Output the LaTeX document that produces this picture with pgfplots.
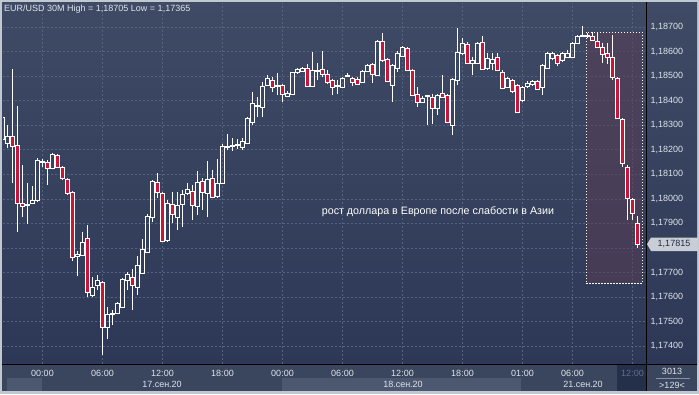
\documentclass[border=0pt]{standalone}
\usepackage{pgfplots}
\pgfplotsset{compat=1.18}
\usepackage{fontspec}
\setmainfont{Liberation Sans}
\definecolor{bgtop}{RGB}{63,75,101}
\definecolor{bgbot}{RGB}{44,56,86}
\definecolor{gridc}{RGB}{86,98,126}
\definecolor{band}{RGB}{58,70,94}
\definecolor{bandl}{RGB}{76,88,112}
\definecolor{bandd}{RGB}{36,48,74}
\definecolor{framec}{RGB}{192,200,210}
\definecolor{txt}{RGB}{222,228,236}
\definecolor{dimtxt}{RGB}{96,110,138}
\definecolor{candred}{RGB}{200,22,58}
\definecolor{hl}{RGB}{93,60,84}
\definecolor{tagc}{RGB}{200,205,214}

\newcommand\candleU[5]{% i open high low close (rising)
  \pgfmathsetmacro\xa{#1-0.37}\pgfmathsetmacro\xb{#1+0.37}%
  \addplot[wk] coordinates {(#1,#4) (#1,#2)};
  \addplot[wk] coordinates {(#1,#5) (#1,#3)};
  \addplot[ub] coordinates {(\xa,#2) (\xb,#2) (\xb,#5) (\xa,#5) (\xa,#2)};
}
\newcommand\candleD[5]{% i open high low close (falling)
  \pgfmathsetmacro\xa{#1-0.37}\pgfmathsetmacro\xb{#1+0.37}%
  \addplot[wk] coordinates {(#1,#4) (#1,#5)};
  \addplot[wk] coordinates {(#1,#2) (#1,#3)};
  \addplot[db] coordinates {(\xa,#2) (\xb,#2) (\xb,#5) (\xa,#5) (\xa,#2)};
}

\begin{document}
\begin{tikzpicture}
\begin{scope}[x=1pt,y=1pt]
\fill[framec] (0,0) rectangle (699,-394);
\shade[top color=bgtop,bottom color=bgbot] (2,-2) rectangle (697,-364);
\fill[band] (2,-364) rectangle (697,-391);
\fill[bandl] (7,-378) rectangle (42,-391);
\fill[bandl] (282,-378) rectangle (521,-391);
\fill[bandd] (617,-365) rectangle (645.5,-391);
\end{scope}

\begin{axis}[at={(3pt,-364pt)}, anchor=south west, scale only axis,
  width=643pt, height=361pt,
  xmin=-7.9, xmax=120.7, ymin=1.17327, ymax=1.18798,
  axis line style={draw=none},
  major tick length=0pt,
  grid=major,
  major grid style={gridc, dash pattern=on 2pt off 2pt, line width=0.6pt},
  xtick={0,12,24,36,48,60,72,84,96,106,118},
  xticklabels={00:00,06:00,12:00,18:00,00:00,06:00,12:00,18:00,01:00,06:00,{\textcolor{dimtxt}{12:00}}},
  ytick={1.174,1.175,1.176,1.177,1.178,1.179,1.180,1.181,1.182,1.183,1.184,1.185,1.186,1.187},
  yticklabels={{1,17400},{1,17500},{1,17600},{1,17700},{},{1,17900},{1,18000},{1,18100},{1,18200},{1,18300},{1,18400},{1,18500},{1,18600},{1,18700}},
  yticklabel pos=right,
  tick label style={font=\fontsize{9}{10}\selectfont, text=txt},
  yticklabel style={anchor=west, xshift=1pt},
  xticklabel style={yshift=-2.5pt},
  wk/.style={white, line width=0.9pt},
  ub/.style={white, line width=0.9pt, line cap=rect},
  db/.style={white, line width=0.9pt, line cap=rect, fill=candred},
]
\addplot[draw=white, dash pattern=on 1.5pt off 1.5pt, line width=0.8pt, fill=hl, fill opacity=0.5]
  coordinates {(108.7,1.17657) (119.9,1.17657) (119.9,1.18680) (108.7,1.18680) (108.7,1.17657)};
\candleD{-8}{1.18333}{1.18341}{1.18235}{1.18244}
\candleU{-7}{1.18227}{1.18301}{1.18207}{1.18256}
\candleD{-6}{1.18256}{1.18529}{1.18064}{1.18215}
\candleD{-5}{1.18219}{1.18378}{1.17865}{1.17983}
\candleD{-4}{1.17983}{1.18138}{1.17926}{1.17971}
\candleU{-3}{1.17974}{1.18064}{1.17897}{1.17976}
\candleU{-2}{1.17983}{1.18052}{1.17979}{1.17995}
\candleU{-1}{1.17995}{1.18166}{1.17987}{1.18158}
\candleU{0}{1.18150}{1.18162}{1.18129}{1.18154}
\candleD{1}{1.18150}{1.18158}{1.18056}{1.18125}
\candleU{2}{1.18125}{1.18187}{1.18121}{1.18182}
\candleD{3}{1.18178}{1.18182}{1.18125}{1.18129}
\candleD{4}{1.18129}{1.18134}{1.18076}{1.18085}
\candleD{5}{1.18081}{1.18085}{1.18015}{1.18024}
\candleD{6}{1.18028}{1.18032}{1.17746}{1.17763}
\candleU{7}{1.17767}{1.17787}{1.17685}{1.17775}
\candleU{8}{1.17771}{1.17865}{1.17767}{1.17824}
\candleD{9}{1.17840}{1.17893}{1.17600}{1.17620}
\candleU{10}{1.17608}{1.17681}{1.17600}{1.17640}
\candleU{11}{1.17649}{1.17689}{1.17628}{1.17669}
\candleD{12}{1.17661}{1.17665}{1.17365}{1.17477}
\candleU{13}{1.17477}{1.17559}{1.17429}{1.17530}
\candleU{14}{1.17530}{1.17547}{1.17486}{1.17535}
\candleU{15}{1.17535}{1.17579}{1.17530}{1.17575}
\candleU{16}{1.17559}{1.17677}{1.17559}{1.17673}
\candleU{17}{1.17669}{1.17702}{1.17628}{1.17693}
\candleD{18}{1.17681}{1.17714}{1.17547}{1.17649}
\candleU{19}{1.17640}{1.17767}{1.17608}{1.17730}
\candleU{20}{1.17698}{1.17836}{1.17698}{1.17795}
\candleU{21}{1.17783}{1.17938}{1.17779}{1.17930}
\candleU{22}{1.17926}{1.18076}{1.17905}{1.18072}
\candleD{23}{1.18068}{1.18105}{1.18003}{1.18028}
\candleD{24}{1.18024}{1.18028}{1.17824}{1.17828}
\candleU{25}{1.17832}{1.17995}{1.17824}{1.17983}
\candleD{26}{1.17979}{1.18028}{1.17901}{1.17938}
\candleU{27}{1.17926}{1.18028}{1.17873}{1.17975}
\candleU{28}{1.17979}{1.18036}{1.17885}{1.18019}
\candleU{29}{1.18024}{1.18064}{1.18015}{1.18040}
\candleD{30}{1.18032}{1.18056}{1.17913}{1.17975}
\candleU{31}{1.17971}{1.18113}{1.17934}{1.18068}
\candleD{32}{1.18072}{1.18085}{1.17954}{1.18028}
\candleU{33}{1.18024}{1.18154}{1.17926}{1.18081}
\candleD{34}{1.18085}{1.18117}{1.18003}{1.18007}
\candleU{35}{1.18011}{1.18162}{1.18003}{1.18064}
\candleU{36}{1.18064}{1.18223}{1.18060}{1.18215}
\candleU{37}{1.18211}{1.18264}{1.18199}{1.18215}
\candleU{38}{1.18215}{1.18248}{1.18195}{1.18219}
\candleU{39}{1.18219}{1.18244}{1.18203}{1.18223}
\candleU{40}{1.18211}{1.18248}{1.18199}{1.18235}
\candleU{41}{1.18227}{1.18333}{1.18223}{1.18329}
\candleU{42}{1.18313}{1.18435}{1.18301}{1.18390}
\candleU{43}{1.18377}{1.18415}{1.18333}{1.18379}
\candleU{44}{1.18374}{1.18476}{1.18333}{1.18460}
\candleU{45}{1.18464}{1.18504}{1.18460}{1.18492}
\candleD{46}{1.18484}{1.18496}{1.18435}{1.18455}
\candleU{47}{1.18460}{1.18513}{1.18423}{1.18461}
\candleD{48}{1.18464}{1.18468}{1.18394}{1.18427}
\candleU{49}{1.18419}{1.18439}{1.18415}{1.18431}
\candleU{50}{1.18427}{1.18517}{1.18423}{1.18513}
\candleU{51}{1.18513}{1.18533}{1.18508}{1.18529}
\candleU{52}{1.18521}{1.18537}{1.18517}{1.18533}
\candleD{53}{1.18533}{1.18549}{1.18455}{1.18460}
\candleU{54}{1.18460}{1.18598}{1.18455}{1.18525}
\candleU{55}{1.18521}{1.18553}{1.18484}{1.18525}
\candleD{56}{1.18529}{1.18602}{1.18496}{1.18508}
\candleD{57}{1.18508}{1.18525}{1.18468}{1.18476}
\candleD{58}{1.18484}{1.18488}{1.18423}{1.18455}
\candleU{59}{1.18460}{1.18484}{1.18427}{1.18461}
\candleU{60}{1.18455}{1.18496}{1.18451}{1.18492}
\candleU{61}{1.18500}{1.18513}{1.18496}{1.18501}
\candleD{62}{1.18492}{1.18496}{1.18460}{1.18476}
\candleD{63}{1.18488}{1.18496}{1.18464}{1.18468}
\candleU{64}{1.18476}{1.18525}{1.18472}{1.18521}
\candleU{65}{1.18521}{1.18549}{1.18517}{1.18545}
\candleD{66}{1.18549}{1.18553}{1.18472}{1.18508}
\candleU{67}{1.18504}{1.18647}{1.18500}{1.18643}
\candleD{68}{1.18643}{1.18675}{1.18557}{1.18565}
\candleD{69}{1.18570}{1.18574}{1.18476}{1.18480}
\candleU{70}{1.18464}{1.18549}{1.18394}{1.18545}
\candleU{71}{1.18533}{1.18602}{1.18517}{1.18594}
\candleU{72}{1.18582}{1.18623}{1.18578}{1.18618}
\candleD{73}{1.18614}{1.18618}{1.18521}{1.18525}
\candleD{74}{1.18525}{1.18529}{1.18419}{1.18423}
\candleD{75}{1.18427}{1.18455}{1.18374}{1.18394}
\candleU{76}{1.18394}{1.18419}{1.18390}{1.18411}
\candleU{77}{1.18419}{1.18423}{1.18301}{1.18420}
\candleD{78}{1.18415}{1.18427}{1.18305}{1.18370}
\candleU{79}{1.18370}{1.18427}{1.18341}{1.18423}
\candleD{80}{1.18431}{1.18504}{1.18411}{1.18415}
\candleD{81}{1.18423}{1.18427}{1.18309}{1.18313}
\candleU{82}{1.18301}{1.18492}{1.18260}{1.18488}
\candleU{83}{1.18484}{1.18696}{1.18464}{1.18598}
\candleU{84}{1.18594}{1.18655}{1.18586}{1.18635}
\candleD{85}{1.18631}{1.18639}{1.18549}{1.18553}
\candleU{86}{1.18553}{1.18578}{1.18504}{1.18565}
\candleU{87}{1.18553}{1.18639}{1.18549}{1.18635}
\candleD{88}{1.18639}{1.18663}{1.18525}{1.18529}
\candleU{89}{1.18533}{1.18594}{1.18525}{1.18574}
\candleU{90}{1.18553}{1.18594}{1.18525}{1.18570}
\candleD{91}{1.18578}{1.18594}{1.18521}{1.18525}
\candleD{92}{1.18513}{1.18525}{1.18447}{1.18451}
\candleU{93}{1.18455}{1.18496}{1.18451}{1.18492}
\candleD{94}{1.18484}{1.18488}{1.18431}{1.18439}
\candleD{95}{1.18464}{1.18468}{1.18350}{1.18354}
\candleU{96}{1.18402}{1.18460}{1.18394}{1.18455}
\candleU{97}{1.18460}{1.18480}{1.18451}{1.18472}
\candleU{98}{1.18468}{1.18484}{1.18460}{1.18480}
\candleD{99}{1.18480}{1.18484}{1.18443}{1.18447}
\candleU{100}{1.18455}{1.18549}{1.18423}{1.18545}
\candleU{101}{1.18533}{1.18598}{1.18529}{1.18594}
\candleU{102}{1.18574}{1.18598}{1.18565}{1.18594}
\candleD{103}{1.18586}{1.18590}{1.18541}{1.18553}
\candleU{104}{1.18565}{1.18598}{1.18557}{1.18594}
\candleU{105}{1.18578}{1.18606}{1.18574}{1.18594}
\candleU{106}{1.18578}{1.18639}{1.18574}{1.18635}
\candleU{107}{1.18635}{1.18667}{1.18631}{1.18663}
\candleU{108}{1.18663}{1.18705}{1.18659}{1.18667}
\candleU{109}{1.18663}{1.18675}{1.18655}{1.18664}
\candleD{110}{1.18663}{1.18680}{1.18643}{1.18647}
\candleD{111}{1.18643}{1.18675}{1.18614}{1.18618}
\candleD{112}{1.18618}{1.18635}{1.18553}{1.18590}
\candleD{113}{1.18594}{1.18635}{1.18549}{1.18578}
\candleD{114}{1.18578}{1.18667}{1.18484}{1.18496}
\candleD{115}{1.18492}{1.18496}{1.18325}{1.18329}
\candleD{116}{1.18325}{1.18329}{1.18129}{1.18146}
\candleD{117}{1.18129}{1.18138}{1.17913}{1.18003}
\candleD{118}{1.17999}{1.18003}{1.17913}{1.17942}
\candleD{119}{1.17901}{1.17930}{1.17799}{1.17815}
\end{axis}

\begin{scope}[x=1pt,y=1pt]
\draw[black, line width=1pt] (2,-364.5) -- (697,-364.5);
\draw[black, line width=1pt] (646.5,-2) -- (646.5,-391);
\node[anchor=west, inner sep=0pt, text=txt, font=\fontsize{9}{10}\selectfont] at (4,-9) {EUR/USD 30M High = 1,18705 Low = 1,17365};
\node[text=white, font=\fontsize{10.7}{12}\selectfont] at (438,-212) {рост доллара в Европе после слабости в Азии};
\foreach \x/\d in {162/17.сен.20, 403/18.сен.20, 583/21.сен.20}
  \node[text=txt, inner sep=0pt, font=\fontsize{9}{10}\selectfont] at (\x,-384.5) {\d};
\fill[tagc] (651,-237.5) -- (698,-237.5) -- (698,-251) -- (651,-251) -- (647,-244.2) -- cycle;
\node[text={rgb,255:red,34;green,42;blue,64}, inner sep=0pt, font=\fontsize{9}{10}\selectfont] at (674,-244.2) {1,17815};
\node[text=txt, inner sep=0pt, font=\fontsize{9}{10}\selectfont] at (672,-371.5) {3013};
\draw[gridc!70!white, line width=0.6pt] (656,-378.5) -- (690,-378.5);
\node[text=txt, inner sep=0pt, font=\fontsize{9}{10}\selectfont] at (672,-385) {>129<};
\end{scope}
\end{tikzpicture}
\end{document}
